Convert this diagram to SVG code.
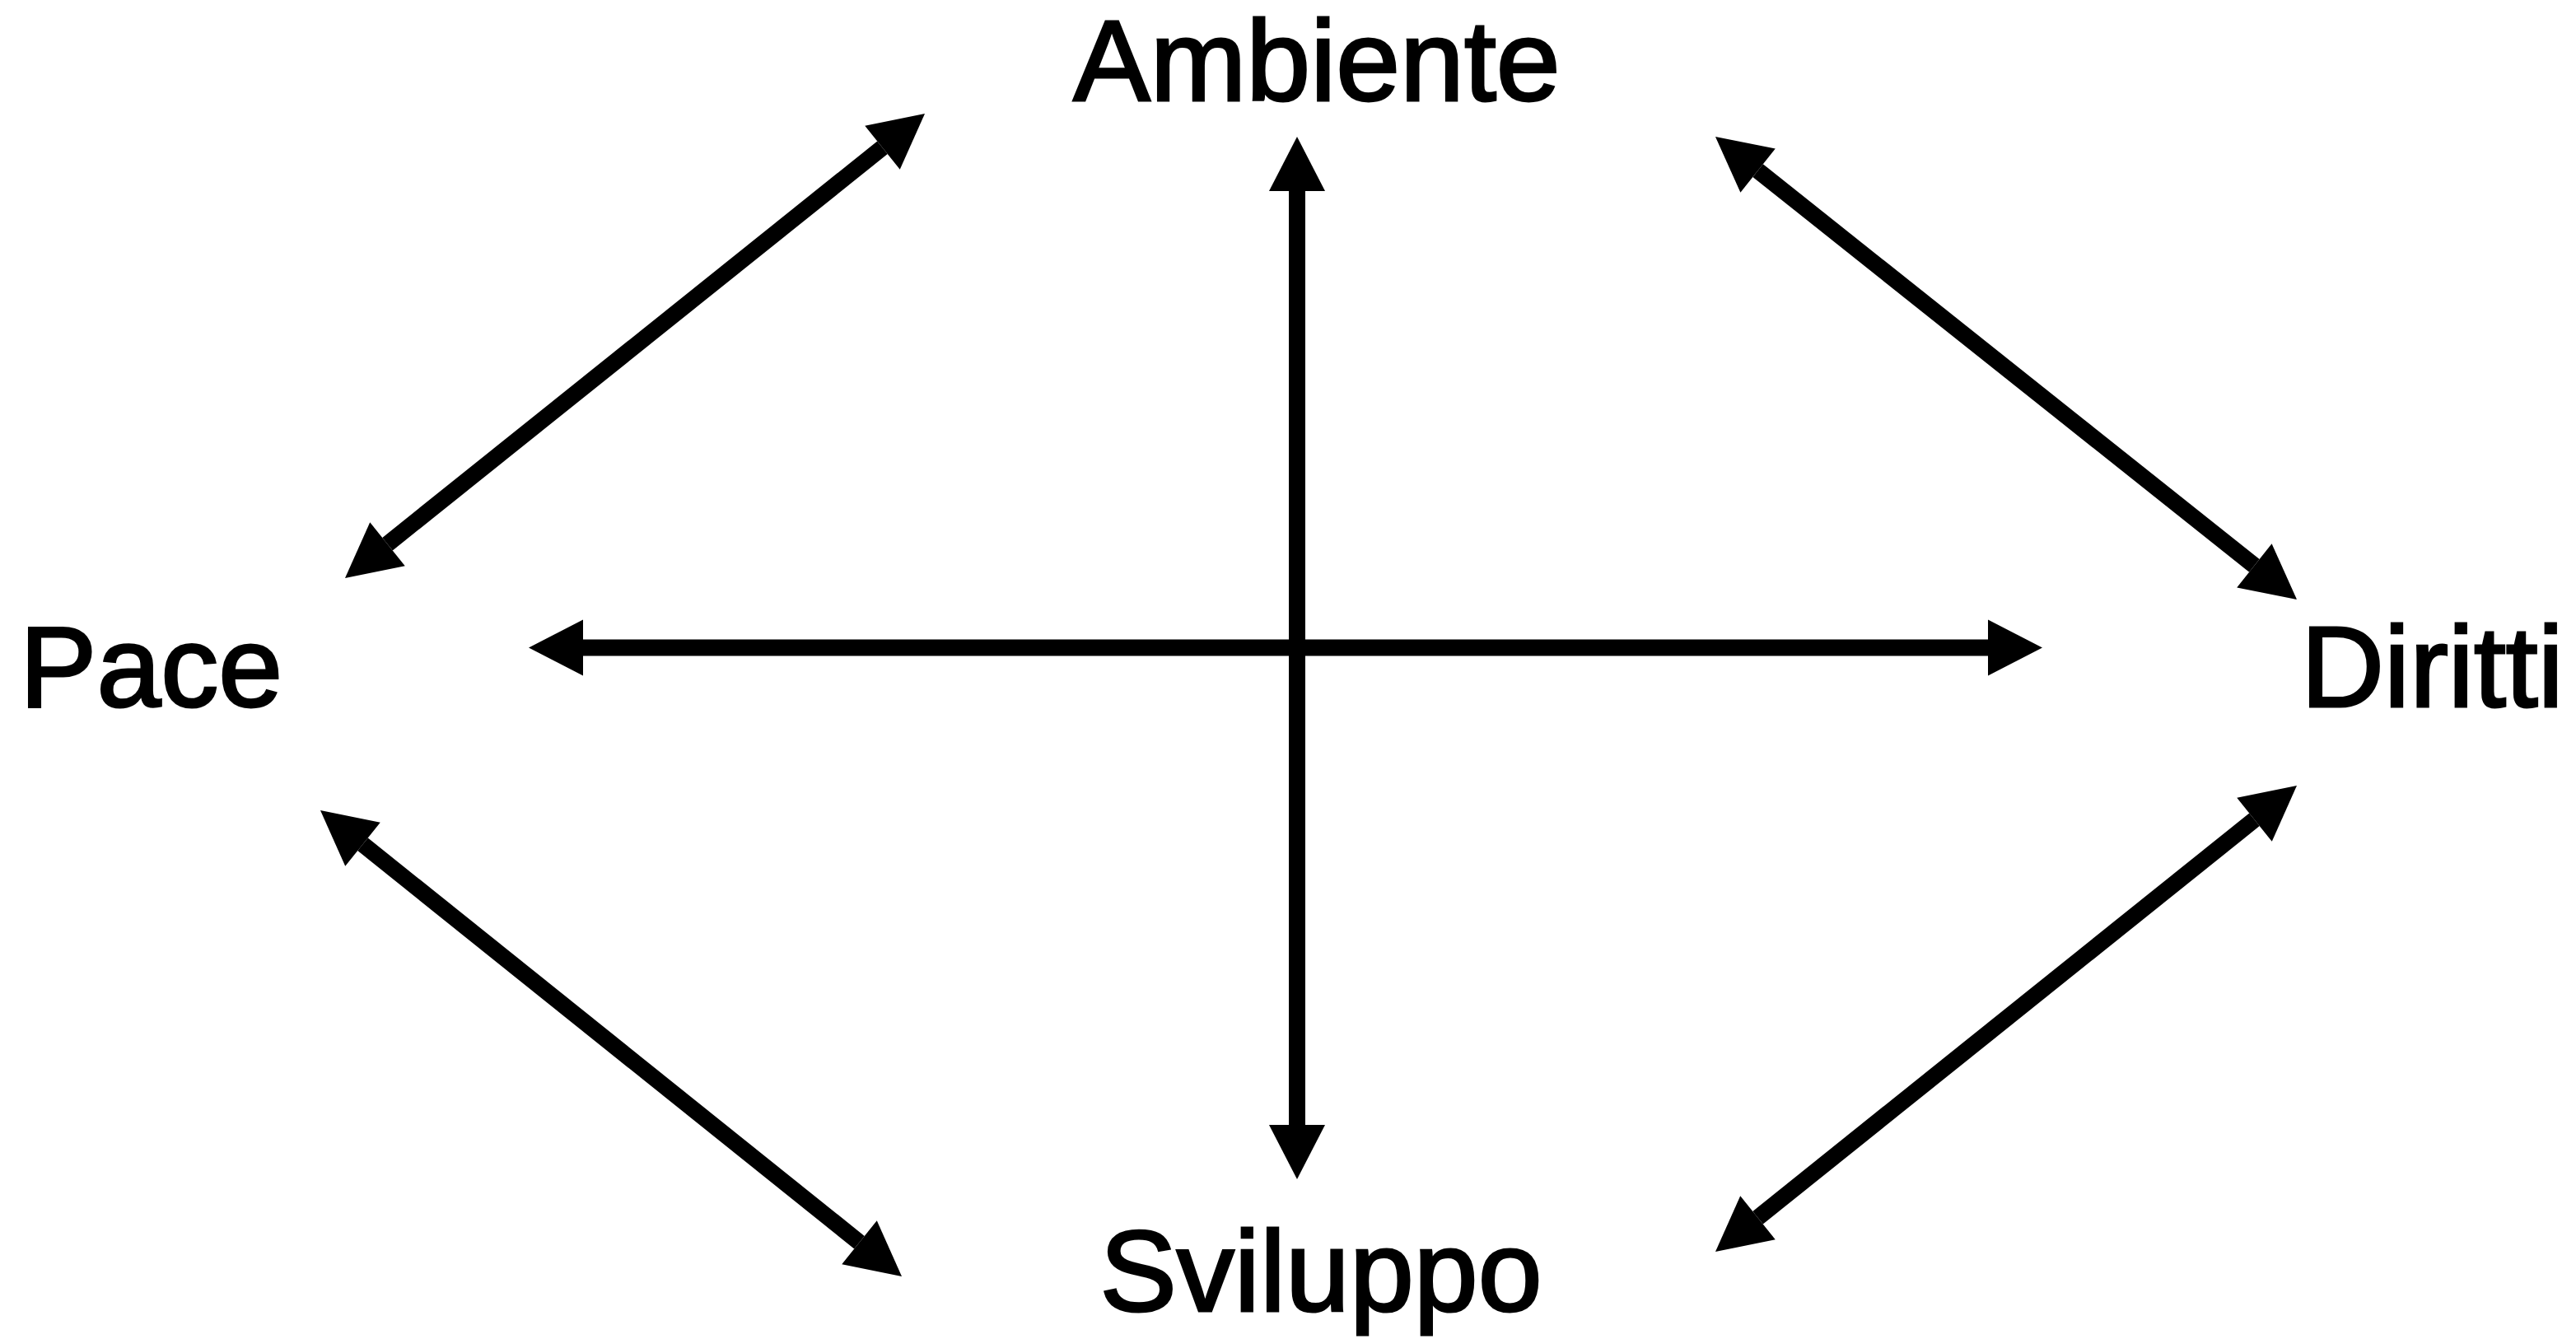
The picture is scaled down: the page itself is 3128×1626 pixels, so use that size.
<svg xmlns="http://www.w3.org/2000/svg" width="3128" height="1626" viewBox="0 0 3128 1626">
<style>
.lbl{font-family:"Liberation Sans",Arial,sans-serif;font-size:140px;fill:#000;stroke:#000;stroke-width:3}
.conn{stroke:#000;stroke-width:20;fill:none;marker-start:url(#ah);marker-end:url(#ah)}
</style>
<defs>
<marker id="ah" markerUnits="userSpaceOnUse" markerWidth="70" markerHeight="72" viewBox="0 -36 70 72" refX="0" refY="0" orient="auto-start-reverse" overflow="visible">
<path d="M0,-34 L66,0 L0,34 z" fill="#000"/>
</marker>
</defs>
<rect width="3128" height="1626" fill="#fff"/>
<g id="connectors">
<line class="conn" x1="1575" y1="232" x2="1575" y2="1366"/>
<line class="conn" x1="708" y1="786.5" x2="2414" y2="786.5"/>
<line class="conn" x1="470.5" y1="660.7" x2="1071.5" y2="179.3"/>
<line class="conn" x1="2134.6" y1="207.1" x2="2737.4" y2="686.9"/>
<line class="conn" x1="440.5" y1="1025.3" x2="1043.5" y2="1508.7"/>
<line class="conn" x1="2737.5" y1="995.3" x2="2134.5" y2="1478.7"/>
</g>
<g id="ambiente"><text class="lbl" x="1599" y="122" text-anchor="middle">Ambiente</text></g>
<g id="pace"><text class="lbl" x="24" y="858">Pace</text></g>
<g id="diritti"><text class="lbl" x="2794" y="858">Diritti</text></g>
<g id="sviluppo"><text class="lbl" x="1604" y="1592" text-anchor="middle">Sviluppo</text></g>
</svg>
